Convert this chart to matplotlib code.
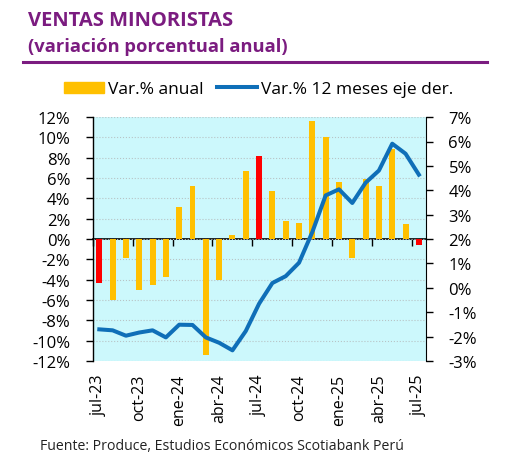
import matplotlib
matplotlib.use("Agg")
import matplotlib.pyplot as plt
from matplotlib.patches import Patch
from matplotlib.lines import Line2D
import numpy as np

plt.rcParams['font.family'] = ['Open Sans', 'DejaVu Sans']

months = ["jul-23", "ago-23", "sep-23", "oct-23", "nov-23", "dic-23",
          "ene-24", "feb-24", "mar-24", "abr-24", "may-24", "jun-24",
          "jul-24", "ago-24", "sep-24", "oct-24", "nov-24", "dic-24",
          "ene-25", "feb-25", "mar-25", "abr-25", "may-25", "jun-25", "jul-25"]
var_anual = [-4.3, -6.0, -1.9, -5.0, -4.5, -3.7,
             3.2, 5.2, -11.4, -4.0, 0.45, 6.65,
             8.2, 4.75, 1.8, 1.6, 11.65, 10.0,
             5.65, -1.85, 5.9, 5.25, 8.9, 1.5, -0.6]
var_12m = [-1.70, -1.74, -1.96, -1.83, -1.74, -2.03,
           -1.51, -1.52, -2.03, -2.25, -2.56, -1.77,
           -0.65, 0.20, 0.48, 1.03, 2.29, 3.79,
           4.04, 3.48, 4.31, 4.81, 5.91, 5.50, 4.64]
highlight = ["jul-23", "jul-24", "jul-25"]
tick_labels = ["jul-23", "oct-23", "ene-24", "abr-24", "jul-24",
               "oct-24", "ene-25", "abr-25", "jul-25"]
left_ticks = list(range(-12, 13, 2))
right_ticks = list(range(-3, 8))

ORANGE = "#FFC000"
RED = "#FF0000"
BLUE = "#0F6FB8"
PURPLE = "#7B1C80"
BG = "#CCF8FC"

fig = plt.figure(figsize=(5.09, 4.56), dpi=100)
ax = fig.add_axes([0.182, 0.206, 0.654, 0.535])
ax.set_facecolor(BG)
x = np.arange(len(months))
colors = [RED if m in highlight else ORANGE for m in months]
ax.bar(x, var_anual, width=0.45, color=colors, zorder=3)
ax.set_xlim(-0.5, len(months) - 0.5)
ax.set_ylim(-12, 12)
ax.set_yticks(left_ticks)
ax.set_yticklabels([f"{v}%" for v in left_ticks], fontsize=12)
ax.grid(axis='y', color='#b8c4c6', linestyle=':', linewidth=0.8, zorder=0)
ax.set_axisbelow(True)
for s in ['top', 'bottom', 'right']:
    ax.spines[s].set_visible(False)
ax.spines['left'].set_linewidth(1.0)
ax.tick_params(axis='y', length=5, width=1, pad=11)

idx = [months.index(t) for t in tick_labels]
ax.set_xticks(idx)
ax.set_xticklabels(tick_labels, rotation=90, fontsize=11.5)
ax.tick_params(axis='x', length=0, pad=9)

sec = ax.secondary_xaxis(0.5)
sec.set_xticks(np.arange(-0.5, len(months), 3))
sec.set_xticklabels([])
sec.tick_params(axis='x', length=5, width=1, direction='in')
for s in sec.spines.values():
    s.set_linewidth(1.2)

ax2 = ax.twinx()
ax2.plot(x, var_12m, color=BLUE, linewidth=2.9, zorder=4)
ax2.set_ylim(-3, 7)
ax2.set_yticks(right_ticks)
ax2.set_yticklabels([f"{v}%" for v in right_ticks], fontsize=12)
for s in ['top', 'bottom', 'left']:
    ax2.spines[s].set_visible(False)
ax2.tick_params(axis='y', length=5, width=1, pad=11.5)

fig.text(0.055, 0.955, "VENTAS MINORISTAS", color=PURPLE, fontsize=14.5,
         fontweight='bold', va='center', ha='left')
fig.text(0.055, 0.897, "(variación porcentual anual)", color=PURPLE, fontsize=13.2,
         fontweight='bold', va='center', ha='left')
fig.add_artist(Line2D([0.045, 0.957], [0.862, 0.862], color=PURPLE, linewidth=2.2,
                      transform=fig.transFigure))

handles = [Patch(color=ORANGE), Line2D([0], [0], color=BLUE, linewidth=2.9)]
fig.legend(handles, ["Var.% anual", "Var.% 12 meses eje der."],
           loc='center', bbox_to_anchor=(0.508, 0.802), ncol=2, frameon=False,
           fontsize=12.5, handlelength=2.3, handleheight=0.6, handletextpad=0.2,
           columnspacing=0.8)

fig.text(0.079, 0.02, "Fuente: Produce, Estudios Económicos Scotiabank Perú",
         fontsize=10.2, ha='left', va='center', color='#222222')

fig.savefig("out.png", dpi=100)
